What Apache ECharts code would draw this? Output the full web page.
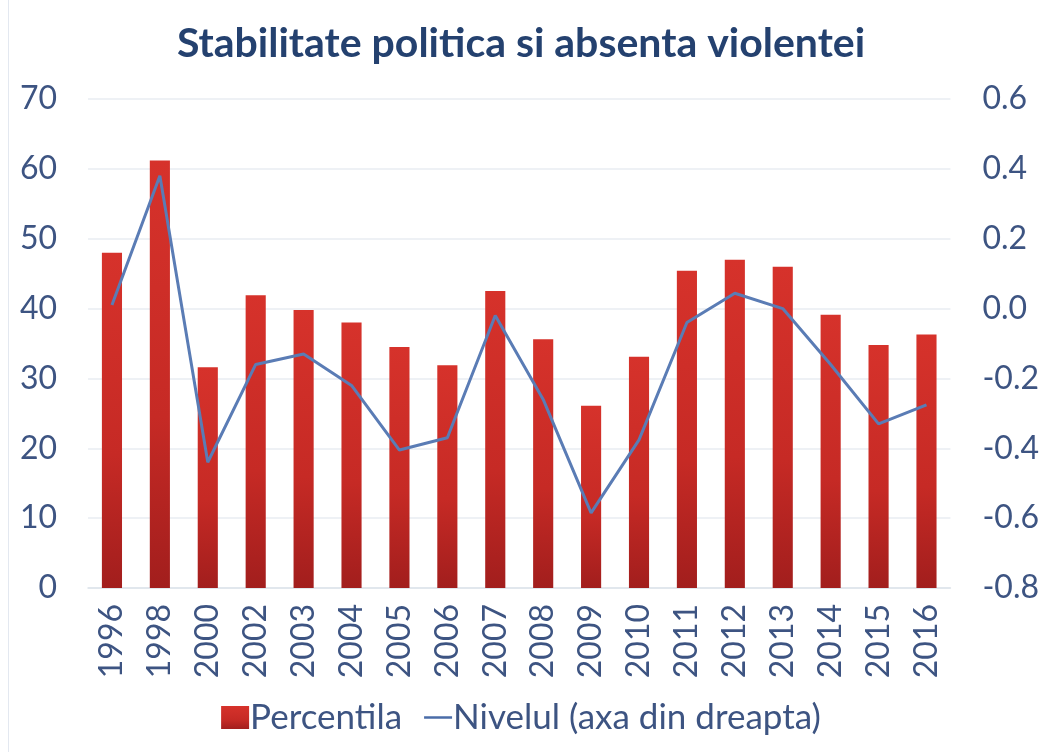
<!DOCTYPE html>
<html>
<head>
<meta charset="utf-8">
<script src="https://cdn.jsdelivr.net/npm/echarts@6/dist/echarts.min.js"></script>
<style>
  html, body { margin: 0; padding: 0; background: #ffffff; }
  #chart { width: 1042px; height: 752px; }
</style>
</head>
<body>
<div id="chart"></div>
<script>
// Years on the category axis
const years = ['1996', '1998', '2000', '2002', '2003', '2004', '2005', '2006', '2007',
               '2008', '2009', '2010', '2011', '2012', '2013', '2014', '2015', '2016'];

// Percentile rank (left axis)
const percentila = [48.0, 61.2, 31.6, 41.9, 39.8, 38.0, 34.5, 31.9, 42.5,
                    35.6, 26.1, 33.1, 45.4, 47.0, 46.0, 39.1, 34.8, 36.3];

// Governance estimate (right axis)
const nivelul = [0.01, 0.38, -0.44, -0.16, -0.13, -0.22, -0.405, -0.37, -0.02,
                 -0.26, -0.585, -0.376, -0.04, 0.044, 0.0, -0.16, -0.33, -0.276];

const leftTicks = { min: 0, max: 70, interval: 10 };
const rightTicks = { min: -0.8, max: 0.6, interval: 0.2 };

const textColor = '#3d5482';
const fontFamily = 'Lato, "Open Sans", sans-serif';

const chart = echarts.init(document.getElementById('chart'), null, { renderer: 'canvas' });

chart.setOption({
  backgroundColor: '#ffffff',
  animation: false,
  textStyle: { fontFamily: fontFamily },
  title: {
    text: 'Stabilitate politica si absenta violentei',
    left: 'center',
    top: 18,
    textStyle: { fontFamily: fontFamily, fontSize: 41, fontWeight: 'bold', color: '#24416f' }
  },
  graphic: [{
    type: 'line',
    shape: { x1: 8.5, y1: 0, x2: 8.5, y2: 752 },
    style: { stroke: '#e3e8f0', lineWidth: 1 }
  }],
  legend: {
    bottom: 12,
    left: 'center',
    itemGap: 22,
    itemWidth: 28,
    itemHeight: 23,
    textStyle: { fontFamily: fontFamily, fontSize: 35, color: textColor, padding: [0, 0, 0, -4] },
    data: [
      { name: 'Percentila', icon: 'rect' },
      { name: 'Nivelul (axa din dreapta)', icon: 'path://M0,10H28V12.5H0Z' }
    ]
  },
  grid: { left: 88, right: 91, top: 99, bottom: 164, containLabel: false },
  xAxis: {
    type: 'category',
    data: years,
    axisLine: { show: true, lineStyle: { color: '#dde3ea', width: 1.5 } },
    axisTick: { show: false },
    axisLabel: {
      rotate: 90,
      margin: 16,
      fontSize: 32,
      color: textColor,
      fontFamily: fontFamily,
      interval: 0
    }
  },
  yAxis: [
    {
      type: 'value',
      min: leftTicks.min,
      max: leftTicks.max,
      interval: leftTicks.interval,
      axisLine: { show: false },
      axisTick: { show: false },
      splitLine: { lineStyle: { color: '#eef1f5', width: 2 } },
      axisLabel: { fontSize: 32, color: textColor, margin: 31, fontFamily: fontFamily }
    },
    {
      type: 'value',
      min: rightTicks.min,
      max: rightTicks.max,
      interval: rightTicks.interval,
      position: 'right',
      axisLine: { show: false },
      axisTick: { show: false },
      splitLine: { show: false },
      axisLabel: {
        fontSize: 32,
        color: textColor,
        margin: 32,
        fontFamily: fontFamily,
        formatter: v => v.toFixed(1)
      }
    }
  ],
  series: [
    {
      name: 'Percentila',
      type: 'bar',
      yAxisIndex: 0,
      data: percentila,
      barWidth: '42%',
      itemStyle: {
        color: {
          type: 'linear', x: 0, y: 0, x2: 0, y2: 1,
          colorStops: [
            { offset: 0, color: '#d6322b' },
            { offset: 0.6, color: '#c62a25' },
            { offset: 1, color: '#a21e1d' }
          ]
        }
      }
    },
    {
      name: 'Nivelul (axa din dreapta)',
      type: 'line',
      yAxisIndex: 1,
      data: nivelul,
      symbol: 'none',
      lineStyle: { color: '#5a7cb5', width: 3 },
      itemStyle: { color: '#4a6ca8' }
    }
  ]
});
</script>
</body>
</html>
